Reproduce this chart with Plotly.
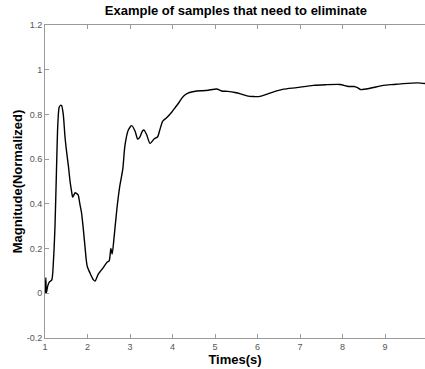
import plotly.graph_objects as go

t = [1.00, 1.02, 1.03, 1.06, 1.10, 1.16, 1.20, 1.235, 1.27, 1.30, 1.33, 1.36, 1.39, 1.43, 1.47,
     1.51, 1.55, 1.59, 1.63, 1.65, 1.68, 1.71, 1.75, 1.78, 1.82, 1.86, 1.90, 1.94, 1.97,
     1.995, 2.06, 2.14, 2.18, 2.25, 2.31, 2.37, 2.45, 2.51, 2.55, 2.58, 2.62, 2.69, 2.76,
     2.83, 2.88, 2.96, 3.04, 3.12, 3.18, 3.235, 3.29, 3.33, 3.39, 3.47, 3.565, 3.65, 3.70,
     3.77, 3.86, 3.98, 4.06, 4.14, 4.22, 4.29, 4.40, 4.57, 4.70, 4.84, 5.04, 5.16, 5.30,
     5.47, 5.60, 5.75, 5.90, 6.06, 6.29, 6.45, 6.61, 6.92, 7.31, 7.60, 7.94, 8.14, 8.27,
     8.35, 8.43, 8.65, 8.96, 9.20, 9.43, 9.78, 9.94]
v = [0.00, 0.07, 0.00, 0.03, 0.05, 0.06, 0.15, 0.30, 0.55, 0.75, 0.83, 0.84, 0.84, 0.80, 0.70,
     0.63, 0.57, 0.50, 0.45, 0.43, 0.44, 0.45, 0.445, 0.44, 0.40, 0.36, 0.29, 0.21, 0.15,
     0.12, 0.09, 0.06, 0.055, 0.085, 0.10, 0.115, 0.137, 0.145, 0.20, 0.175, 0.24, 0.375, 0.48,
     0.555, 0.66, 0.73, 0.75, 0.725, 0.69, 0.70, 0.725, 0.73, 0.71, 0.67, 0.69, 0.70, 0.73,
     0.77, 0.785, 0.81, 0.83, 0.85, 0.873, 0.887, 0.898, 0.905, 0.906, 0.908, 0.914, 0.905, 0.903,
     0.898, 0.892, 0.883, 0.880, 0.881, 0.895, 0.905, 0.913, 0.92, 0.93, 0.933, 0.934, 0.925, 0.925,
     0.92, 0.911, 0.917, 0.93, 0.934, 0.938, 0.941, 0.938]

y_ticks = [-0.2, 0, 0.2, 0.4, 0.6, 0.8, 1, 1.2]
y_labels = ["-0.2", "0", "0.2", "0.4", "0.6", "0.8", "1", "1.2"]
x_ticks = [1, 2, 3, 4, 5, 6, 7, 8, 9, 10]

fig = go.Figure()
fig.add_trace(go.Scatter(x=t, y=v, mode="lines", line=dict(color="black", width=1.4, shape="spline", smoothing=0.6),
                         showlegend=False, hoverinfo="skip"))

axis_font = dict(family="Arial, Liberation Sans, sans-serif", size=9, color="#555555")
fig.update_layout(
    width=425, height=369,
    margin=dict(l=45, r=0, t=25, b=31),
    paper_bgcolor="white", plot_bgcolor="white",
    title=dict(text="<b>Example of samples that need to eliminate</b>", x=0.555, xanchor="center",
               y=0.972, yanchor="middle",
               font=dict(family="Arial, Liberation Sans, sans-serif", size=13, color="black")),
    xaxis=dict(range=[1, 9.94], tickvals=x_ticks, ticks="inside", ticklen=4, tickcolor="#9a9a9a",
               showline=True, linecolor="#9a9a9a", linewidth=1, mirror="ticks", showgrid=False,
               zeroline=False, tickfont=axis_font,
               title=dict(text="<b>Times(s)</b>", standoff=4,
                          font=dict(family="Arial, Liberation Sans, sans-serif", size=13, color="black"))),
    yaxis=dict(range=[-0.2, 1.2], tickvals=y_ticks, ticktext=y_labels, ticks="inside", ticklen=4,
               tickcolor="#9a9a9a", showline=True, linecolor="#9a9a9a", linewidth=1, showgrid=False,
               zeroline=False, tickfont=axis_font,
               title=dict(text="<b>Magnitude(Normalized)</b>", standoff=1,
                          font=dict(family="Arial, Liberation Sans, sans-serif", size=13, color="black"))),
)
fig.write_html("out.html")
